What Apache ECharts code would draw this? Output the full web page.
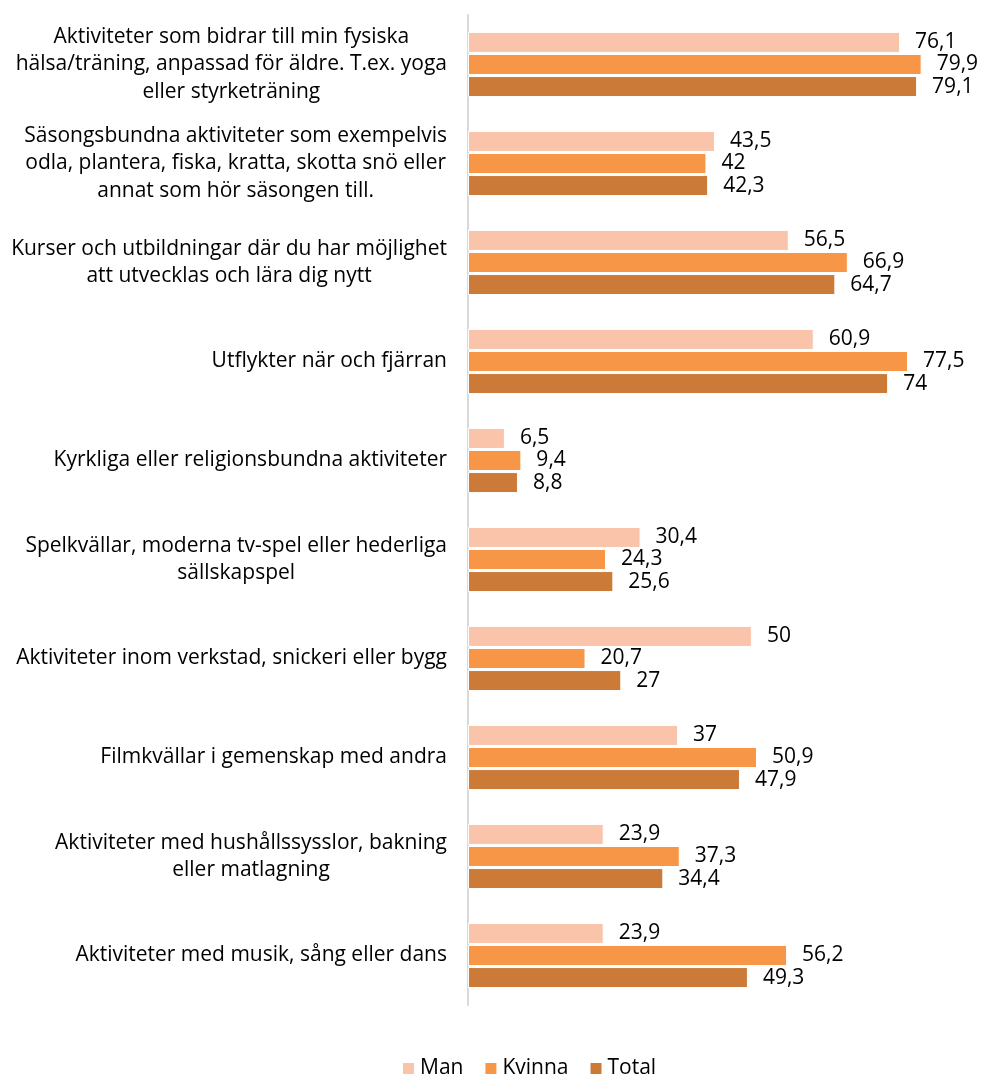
<!DOCTYPE html>
<html lang="sv">
  <head>
    <meta charset="UTF-8" />
    <title>Aktiviteter</title>
    <script src="https://cdn.jsdelivr.net/npm/echarts@6/dist/echarts.min.js"></script>
    <style>
      * {
        margin: 0;
        padding: 0;
      }
    </style>
  </head>
  <body>
    <div id="charts" style="width: 983px; height: 1075px"></div>
    <script>
      var categories = [
        "Aktiviteter som bidrar till min fysiska\nhälsa/träning, anpassad för äldre. T.ex. yoga\neller styrketräning",
        "Säsongsbundna aktiviteter som exempelvis\nodla, plantera, fiska, kratta, skotta snö eller\nannat som hör säsongen till.",
        "Kurser och utbildningar där du har möjlighet\natt utvecklas och lära dig nytt",
        "Utflykter när och fjärran",
        "Kyrkliga eller religionsbundna aktiviteter",
        "Spelkvällar, moderna tv-spel eller hederliga\nsällskapspel",
        "Aktiviteter inom verkstad, snickeri eller bygg",
        "Filmkvällar i gemenskap med andra",
        "Aktiviteter med hushållssysslor, bakning\neller matlagning",
        "Aktiviteter med musik, sång eller dans",
      ];
      var manData = [76.1, 43.5, 56.5, 60.9, 6.5, 30.4, 50, 37, 23.9, 23.9];
      var kvinnaData = [79.9, 42, 66.9, 77.5, 9.4, 24.3, 20.7, 50.9, 37.3, 56.2];
      var totalData = [79.1, 42.3, 64.7, 74, 8.8, 25.6, 27, 47.9, 34.4, 49.3];

      var fontFamily = "'Open Sans', sans-serif";

      function makeSeries(name, data, color) {
        return {
          name: name,
          type: "bar",
          data: data,
          barWidth: 21,
          barGap: "5%",
          itemStyle: { color: color, borderColor: "#fff", borderWidth: 1 },
          label: {
            show: true,
            position: "right",
            distance: 15,
            color: "#000",
            fontSize: 21,
            fontFamily: fontFamily,
            formatter: function (p) {
              return String(p.value).replace(".", ",");
            },
          },
        };
      }

      var myEcharts = echarts.init(document.getElementById("charts"));
      myEcharts.setOption({
        animation: false,
        grid: { left: 468, top: 15, width: 511, height: 990 },
        legend: {
          top: 1053,
          left: 396,
          itemWidth: 13,
          itemHeight: 13,
          itemGap: 20,
          icon: "rect",
          textStyle: { fontSize: 21, color: "#000", fontFamily: fontFamily },
          data: ["Man", "Kvinna", "Total"],
        },
        xAxis: {
          type: "value",
          min: 0,
          max: 90,
          show: false,
        },
        yAxis: {
          type: "category",
          inverse: true,
          data: categories,
          axisLine: { lineStyle: { color: "#d9d9d9", width: 2 } },
          axisTick: { show: false },
          axisLabel: {
            margin: 21,
            color: "#000",
            fontSize: 21,
            lineHeight: 27.5,
            align: "right",
            fontFamily: fontFamily,
            formatter: function (value) {
              return value
                .split("\n")
                .map(function (line) {
                  return "{c|" + line + "}";
                })
                .join("\n");
            },
            rich: {
              c: {
                align: "center",
                color: "#000",
                fontSize: 21,
                lineHeight: 27.5,
                fontFamily: fontFamily,
              },
            },
          },
        },
        series: [
          makeSeries("Man", manData, "#f9c4a9"),
          makeSeries("Kvinna", kvinnaData, "#f79646"),
          makeSeries("Total", totalData, "#cc7a38"),
        ],
      });
    </script>
  </body>
</html>
